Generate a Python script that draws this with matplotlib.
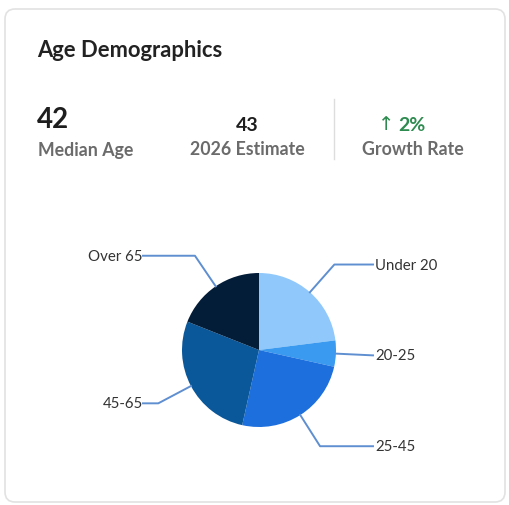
import numpy as np
import matplotlib
matplotlib.use("Agg")
import matplotlib.pyplot as plt
from matplotlib.patches import FancyBboxPatch

plt.rcParams['font.family'] = ['Lato', 'DejaVu Sans']

# data
groups = ["Under 20", "20-25", "25-45", "45-65", "Over 65"]
shares = [23, 5.5, 25, 27.5, 19]
colors = ["#90c8fb", "#3a9af0", "#1c6fdc", "#0a579a", "#031c38"]

median_age = 42
estimate_2026 = 43
growth_rate = 2

W, H = 509, 506
fig = plt.figure(figsize=(W / 100, H / 100), dpi=100)
ax = fig.add_axes([0, 0, 1, 1])
ax.set_xlim(0, W)
ax.set_ylim(H, 0)   # pixel coords, y goes down
ax.axis('off')

# card
card = FancyBboxPatch((5, 10), 500, 493, boxstyle="round,pad=0,rounding_size=10",
                      facecolor="white", edgecolor="#e2e2e2", linewidth=1.2, zorder=0)
ax.add_patch(card)

ax.text(37, 50, "Age Demographics", fontsize=15.8, fontweight='bold', color="#222222",
        ha='left', va='center')

# stats row
ax.text(37, 120, str(median_age), fontsize=20, fontweight='bold', color="#1e1e1e",
        ha='left', va='center')
ax.text(38, 150, "Median Age", fontsize=12.8, fontweight='bold', color="#6b6b6b",
        ha='left', va='center')

ax.text(247, 125, str(estimate_2026), fontsize=14, fontweight='bold', color="#1e1e1e",
        ha='center', va='center')
ax.text(247, 149, "2026 Estimate", fontsize=12.8, fontweight='bold', color="#6b6b6b",
        ha='center', va='center')

ax.plot([334, 334], [100, 160], color="#dddddd", linewidth=1)

ax.text(386, 124, "\u2191", fontsize=14, color="#2e8b50", ha='center', va='center',
        family=['DejaVu Sans'])
ax.text(398, 125, "%d%%" % growth_rate, fontsize=14, fontweight='bold', color="#2e8b50",
        ha='left', va='center')
ax.text(413, 149, "Growth Rate", fontsize=12.8, fontweight='bold', color="#6b6b6b",
        ha='center', va='center')

# pie (y axis is inverted, so counterclock in data = clockwise on screen)
cx, cy, R = 259, 351, 77
wedges, _ = ax.pie(shares, colors=colors, startangle=-90, counterclock=True,
                   center=(cx, cy), radius=R, frame=True,
                   wedgeprops=dict(linewidth=0))
ax.set_xlim(0, W)
ax.set_ylim(H, 0)
ax.axis('off')

line_color = "#5f8fd0"
for w, name in zip(wedges, groups):
    mid = np.deg2rad((w.theta1 + w.theta2) / 2)
    c, s = np.cos(mid), np.sin(mid)
    x0, y0 = cx + R * c, cy + R * s
    x1, y1 = cx + 1.48 * R * c, cy + 1.48 * R * s
    if c >= 0:
        x2 = cx + 114
        ax.plot([x0, x1, x2], [y0, y1, y1], color=line_color, linewidth=1.4, zorder=3)
        ax.text(x2 + 2, y1, name, fontsize=10.8, color="#333333", ha='left', va='center')
    else:
        x2 = cx - 116
        ax.plot([x0, x1, x2], [y0, y1, y1], color=line_color, linewidth=1.4, zorder=3)
        ax.text(x2, y1, name, fontsize=10.8, color="#333333", ha='right', va='center')

fig.savefig("out.png", dpi=100)
